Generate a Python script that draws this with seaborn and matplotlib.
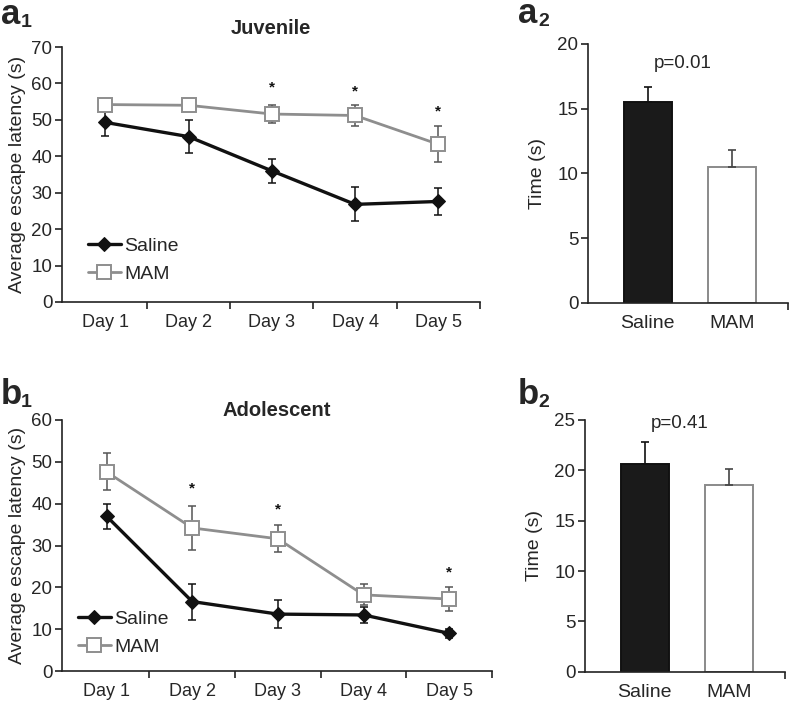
import matplotlib
matplotlib.use("Agg")
import matplotlib.pyplot as plt
import seaborn as sns
import pandas as pd
import numpy as np

sns.set_theme(style="ticks")
plt.rcParams['font.family'] = ['Liberation Sans', 'DejaVu Sans']

days = ["Day 1", "Day 2", "Day 3", "Day 4", "Day 5"]
groups = ["Saline", "MAM"]

# Juvenile (a1)
juv_saline = [49.3, 45.4, 36.0, 26.8, 27.6]
juv_saline_err = [3.8, 4.5, 3.3, 4.7, 3.7]
juv_mam = [54.2, 54.0, 51.6, 51.2, 43.3]
juv_mam_err = [1.0, 1.0, 2.5, 3.0, 5.0]
juv_star = [None, None, 59.2, 58.3, 52.7]

# Adolescent (b1)
ado_saline = [37.0, 16.6, 13.6, 13.4, 9.0]
ado_saline_err = [3.0, 4.3, 3.4, 1.9, 1.0]
ado_mam = [47.6, 34.2, 31.6, 18.2, 17.2]
ado_mam_err = [4.4, 5.3, 3.2, 2.5, 2.8]
ado_star = [None, 43.9, 38.9, None, 23.9]

# Bars (a2, b2)
juv_time = [15.5, 10.5]
juv_time_err = [1.2, 1.3]
ado_time = [20.6, 18.5]
ado_time_err = [2.2, 1.6]
juv_p = "p=0.01"
ado_p = "p=0.41"

W, H = 789, 705
fig = plt.figure(figsize=(W / 100, H / 100), dpi=100)

def frac(l, r, t, b):
    return [l / W, 1 - b / H, (r - l) / W, (b - t) / H]

SAL_C = "#111111"
MAM_C = "#8e8e8e"


def style_axes(ax):
    sns.despine(ax=ax)
    for s in ("left", "bottom"):
        ax.spines[s].set_linewidth(1.2)
        ax.spines[s].set_color("#222222")
    ax.tick_params(axis="both", which="major", direction="out", width=1.2,
                   length=5, color="#222222", labelsize=13.5, pad=2)


def line_panel(rect, sal, sal_err, mam, mam_err, stars, ymax, title, tpad, leg_x, leg_y):
    ax = fig.add_axes(rect)
    x = np.arange(len(days))
    df = pd.DataFrame({"x": np.concatenate([x, x]),
                       "y": sal + mam,
                       "group": ["Saline"] * 5 + ["MAM"] * 5})
    ax.errorbar(x, sal, yerr=sal_err, fmt="none", ecolor=SAL_C, elinewidth=1.1,
                capsize=3, capthick=1.1, zorder=1)
    ax.errorbar(x, mam, yerr=mam_err, fmt="none", ecolor="#555555", elinewidth=1.1,
                capsize=3, capthick=1.1, zorder=1)
    sns.lineplot(data=df[df.group == "Saline"], x="x", y="y", ax=ax, color=SAL_C,
                 linewidth=2.4, marker="D", markersize=7, markerfacecolor=SAL_C,
                 markeredgecolor=SAL_C, label="Saline", zorder=3)
    sns.lineplot(data=df[df.group == "MAM"], x="x", y="y", ax=ax, color=MAM_C,
                 linewidth=2.0, marker="s", markersize=10, markerfacecolor="white",
                 markeredgecolor=MAM_C, markeredgewidth=1.4, label="MAM", zorder=3)
    for xi, sv in zip(x, stars):
        if sv is not None:
            ax.text(xi, sv, "*", ha="center", va="center_baseline", fontsize=11,
                    fontweight="bold", color="#111111")
    ax.set_xlim(-0.52, 4.5)
    ax.set_ylim(0, ymax)
    ax.set_yticks(np.arange(0, ymax + 1, 10))
    ax.set_xticks(np.arange(0.5, 5, 1.0))
    ax.set_xticklabels([])
    ax.set_xticks(x, minor=True)
    ax.set_xticklabels(days, minor=True)
    ax.set_xlabel("")
    ax.set_ylabel("Average escape latency (s)", fontsize=14, labelpad=4)
    style_axes(ax)
    ax.tick_params(axis="x", which="minor", length=0, labelsize=13, pad=9)
    ax.set_title(title, fontsize=14.5, fontweight="bold", pad=tpad)
    ax.legend(loc="lower left", bbox_to_anchor=(leg_x, leg_y), frameon=False,
              fontsize=14, handlelength=1.7, handletextpad=0.15, labelspacing=0.55,
              borderpad=0, borderaxespad=0)
    return ax


def bar_panel(rect, vals, errs, ymax, step, ptxt, py):
    ax = fig.add_axes(rect)
    df = pd.DataFrame({"group": groups, "val": vals})
    sns.barplot(data=df, x="group", y="val", ax=ax, width=0.57,
                palette=["#1a1a1a", "white"], hue="group", legend=False,
                edgecolor="#111111", linewidth=1.4, saturation=1)
    ax.patches[1].set_edgecolor("#8a8a8a")
    ecols = ["#111111", "#444444"]
    for i in range(2):
        ax.errorbar([i], [vals[i]], yerr=[[0], [errs[i]]], fmt="none",
                    ecolor=ecols[i], elinewidth=1.2, capsize=3, capthick=1.2)
    ax.set_xlim(-0.71, 1.67)
    ax.set_ylim(0, ymax)
    ax.set_yticks(np.arange(0, ymax + 1, step))
    ax.set_xticks([1.67])
    ax.set_xticklabels([])
    ax.set_xticks([0, 1], minor=True)
    ax.set_xticklabels(groups, minor=True)
    ax.set_xlabel("")
    ax.set_ylabel("Time (s)", fontsize=14, labelpad=8)
    style_axes(ax)
    ax.tick_params(axis="x", which="minor", length=0, labelsize=14, pad=9)
    ax.text(0.42, py, ptxt, ha="center", va="center", fontsize=13.5)
    return ax


line_panel(frac(62, 480, 47, 302), juv_saline, juv_saline_err, juv_mam, juv_mam_err,
           juv_star, 70, "Juvenile", 9, 0.062, 0.075)
bar_panel(frac(588, 788, 44, 302.7), juv_time, juv_time_err, 20, 5, juv_p, 18.5)
line_panel(frac(62, 492, 420, 671), ado_saline, ado_saline_err, ado_mam, ado_mam_err,
           ado_star, 60, "Adolescent", 1.5, 0.037, 0.06)
bar_panel(frac(585, 785, 420, 671.7), ado_time, ado_time_err, 25, 5, ado_p, 24.7)


def panel_label(xp, yp, letter, sub):
    fig.text(xp / W, 1 - yp / H, letter, fontsize=25, fontweight="bold",
             ha="left", va="baseline")
    fig.text((xp + 20) / W, 1 - (yp + 3) / H, sub, fontsize=14, fontweight="bold",
             ha="left", va="baseline")

panel_label(1, 24, "a", "1")
panel_label(518, 23, "a", "2")
panel_label(1, 404, "b", "1")
panel_label(518, 404, "b", "2")

fig.savefig("out.png", dpi=100)
